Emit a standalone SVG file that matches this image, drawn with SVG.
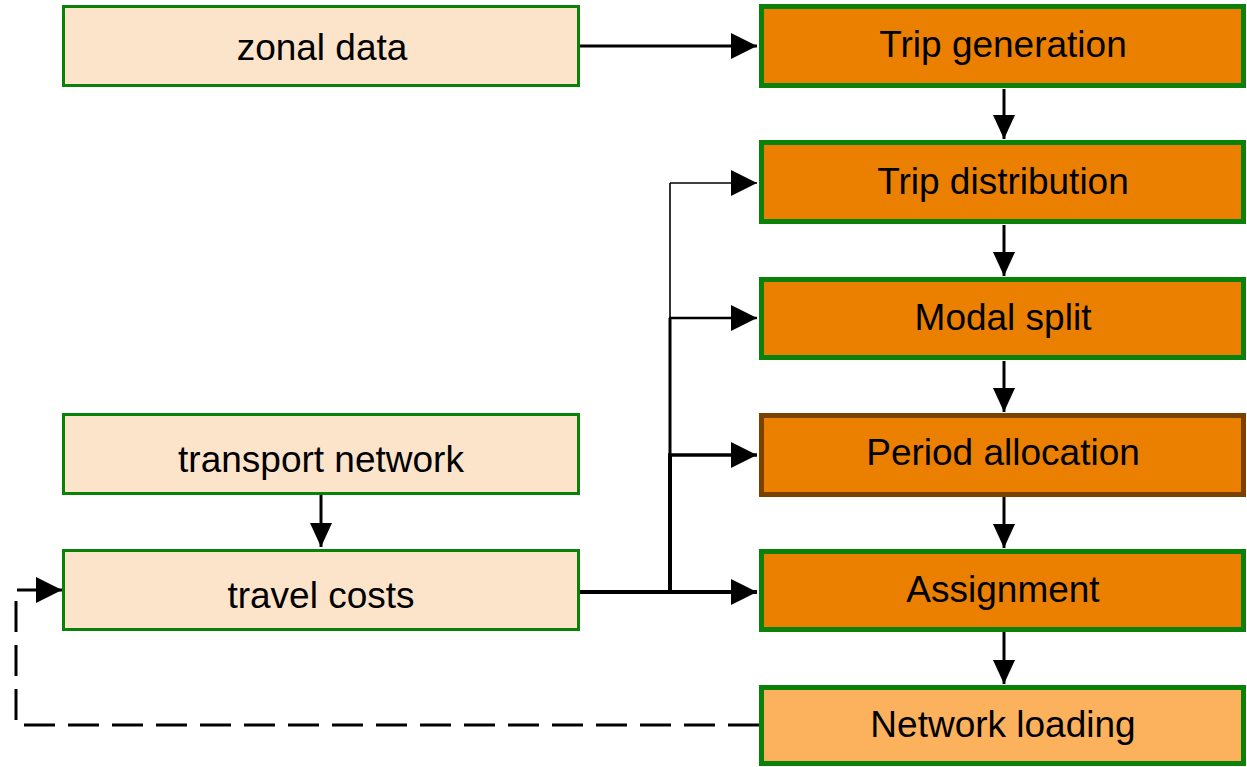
<svg xmlns="http://www.w3.org/2000/svg" width="1247" height="767" viewBox="0 0 1247 767">
  <style>
    .input rect { fill: #FCE4CB; stroke: #0A820A; stroke-width: 3; }
    .step rect { fill: #EB8000; stroke: #0A820A; stroke-width: 5; }
    .step.alt rect { stroke: #7A4100; }
    .step.out rect { fill: #FCB15C; }
    text { font-family: "Liberation Sans", Arial, sans-serif; font-size: 37px; fill: #000; text-anchor: middle; }
    .wire { fill: none; stroke: #000; }
  </style>
  <defs>
    <marker id="arrow" markerUnits="userSpaceOnUse" viewBox="0 0 26 26" markerWidth="26" markerHeight="26" refX="26" refY="13" orient="auto">
      <path d="M0,0 L26,13 L0,26 Z" fill="#000"/>
    </marker>
    <marker id="arrowS" markerUnits="userSpaceOnUse" viewBox="0 0 24 24" markerWidth="24" markerHeight="24" refX="24" refY="12" orient="auto">
      <path d="M0,1 L24,12 L0,23 Z" fill="#000"/>
    </marker>
  </defs>

  <!-- input boxes -->
  <g id="zonal-data" class="input">
    <rect x="63.5" y="6.5" width="515" height="79"/>
    <text x="322" y="60">zonal data</text>
  </g>
  <g id="transport-network" class="input">
    <rect x="63.5" y="414.5" width="515" height="79"/>
    <text x="321" y="472">transport network</text>
  </g>
  <g id="travel-costs" class="input">
    <rect x="63.5" y="550.5" width="515" height="79"/>
    <text x="321" y="608">travel costs</text>
  </g>

  <!-- model steps -->
  <g id="trip-generation" class="step">
    <rect x="761.5" y="6.5" width="482" height="79"/>
    <text x="1003" y="57">Trip generation</text>
  </g>
  <g id="trip-distribution" class="step">
    <rect x="761.5" y="142.5" width="482" height="79"/>
    <text x="1003" y="194">Trip distribution</text>
  </g>
  <g id="modal-split" class="step">
    <rect x="761.5" y="279.5" width="482" height="78"/>
    <text x="1003" y="330">Modal split</text>
  </g>
  <g id="period-allocation" class="step alt">
    <rect x="761.5" y="415.5" width="482" height="79"/>
    <text x="1003" y="465">Period allocation</text>
  </g>
  <g id="assignment" class="step">
    <rect x="761.5" y="551.5" width="482" height="78"/>
    <text x="1003" y="602">Assignment</text>
  </g>
  <g id="network-loading" class="step out">
    <rect x="761.5" y="687.5" width="482" height="76"/>
    <text x="1003" y="737">Network loading</text>
  </g>

  <!-- connectors -->
  <g id="connectors">
    <path class="wire" d="M580,46 H757" stroke-width="3" marker-end="url(#arrow)"/>

    <path class="wire" d="M1004,89 V139" stroke-width="3" marker-end="url(#arrowS)"/>
    <path class="wire" d="M1004,225 V276" stroke-width="3" marker-end="url(#arrowS)"/>
    <path class="wire" d="M1004,361 V412" stroke-width="3" marker-end="url(#arrowS)"/>
    <path class="wire" d="M1004,497 V548" stroke-width="3" marker-end="url(#arrowS)"/>
    <path class="wire" d="M1004,632 V684" stroke-width="3" marker-end="url(#arrowS)"/>

    <path class="wire" d="M321,495 V547" stroke-width="3" marker-end="url(#arrowS)"/>

    <!-- travel costs feeding the model steps -->
    <path class="wire" d="M580,592 H757" stroke-width="4" marker-end="url(#arrow)"/>
    <path class="wire" d="M670,594 V455" stroke-width="4"/>
    <path class="wire" d="M670,456 V318" stroke-width="3"/>
    <path class="wire" d="M670,319 V183" stroke-width="1.6"/>
    <path class="wire" d="M668,455 H757" stroke-width="3.5" marker-end="url(#arrow)"/>
    <path class="wire" d="M669,318 H757" stroke-width="2.5" marker-end="url(#arrow)"/>
    <path class="wire" d="M670,183 H757" stroke-width="1.6" marker-end="url(#arrow)"/>

    <!-- feedback loop -->
    <path class="wire" d="M759,725 H16 V601" stroke-width="3" stroke-dasharray="31 13"/>
    <path class="wire" d="M17,590 H62" stroke-width="3" marker-end="url(#arrow)"/>
  </g>
</svg>
